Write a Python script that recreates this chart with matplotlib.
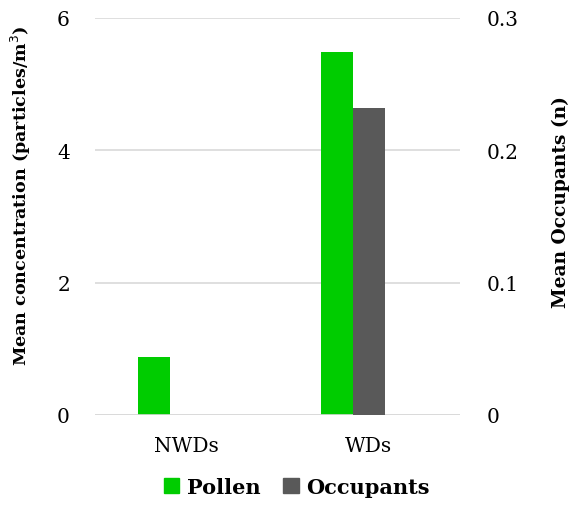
import numpy as np
import matplotlib.pyplot as plt
from matplotlib.patches import Patch

# data
categories = ['NWDs', 'WDs']
pollen = [0.87, 5.48]
occupants = [0.0, 0.232]

plt.rcParams['font.family'] = 'DejaVu Serif'

fig = plt.figure(figsize=(5.74, 5.06), dpi=100)
ax = fig.add_axes([0.1655, 0.178, 0.6355, 0.7845])
ax2 = ax.twinx()

x = np.arange(len(categories))
w = 0.175
ax.bar(x - w, pollen, width=w, color='#00CC00', zorder=3)
ax2.bar(x, occupants, width=w, color='#595959', zorder=3)

ax.set_xlim(-0.5, 1.5)
ax.set_ylim(0, 6)
ax2.set_ylim(0, 0.3)
ax.set_yticks([0, 2, 4, 6])
ax2.set_yticks([0, 0.1, 0.2, 0.3])
ax2.set_yticklabels(['0', '0.1', '0.2', '0.3'])
ax.set_xticks(x)
ax.set_xticklabels(categories)

ax.yaxis.grid(True, color='#D9D9D9', linewidth=1.2, zorder=0)
ax.set_axisbelow(True)
for a in (ax, ax2):
    for s in ['top', 'left', 'right', 'bottom']:
        a.spines[s].set_visible(False)
ax.axhline(0, color='#D9D9D9', linewidth=1.2, zorder=4)

ax.tick_params(axis='both', length=0, labelsize=14.5)
ax.tick_params(axis='y', pad=18)
ax.tick_params(axis='x', pad=15)
ax2.tick_params(axis='y', length=0, labelsize=14.5, pad=19)

ax.set_ylabel('Mean concentration (particles/m$^3$)', fontsize=12.6,
              fontweight='bold')
ax.yaxis.set_label_coords(-0.17, 0.554)
ax2.set_ylabel('Mean Occupants (n)', fontsize=13.4, fontweight='bold')
ax2.yaxis.set_label_coords(1.252, 0.539)

handles = [Patch(color='#00CC00', label='Pollen'),
           Patch(color='#595959', label='Occupants')]
fig.legend(handles=handles, loc='center', bbox_to_anchor=(0.517, 0.036), ncol=2,
           frameon=False, prop={'weight': 'bold', 'size': 15},
           handlelength=0.75, handleheight=0.75, handletextpad=0.35, columnspacing=1.1)

plt.savefig('out.png', dpi=100)
